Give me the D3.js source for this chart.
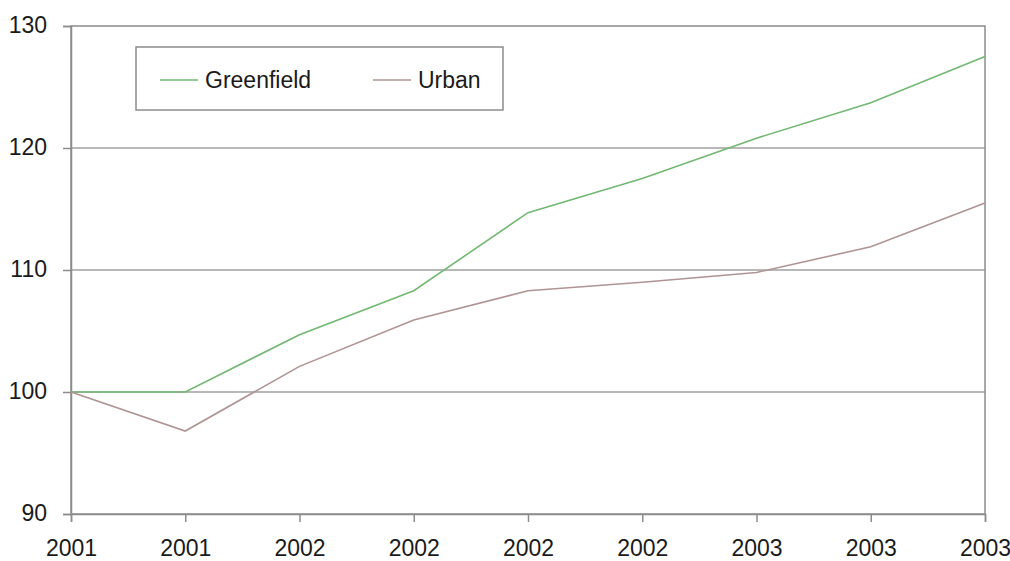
<!DOCTYPE html>
<html>
<head>
<meta charset="utf-8">
<script src="https://cdn.jsdelivr.net/npm/d3@7"></script>
<style>
  html, body { margin: 0; padding: 0; background: #fff; }
  svg { display: block; font-family: "Liberation Sans", Arial, sans-serif; }
</style>
</head>
<body>
<svg id="chart" width="1010" height="561"></svg>
<script>
// Index values per period (base = 100)
const periods = ["2001", "2001", "2002", "2002", "2002", "2002", "2003", "2003", "2003"];
const greenfield = [100, 100, 104.7, 108.3, 114.7, 117.5, 120.8, 123.7, 127.5];
const urban = [100, 96.8, 102.1, 105.9, 108.3, 109.0, 109.8, 111.9, 115.5];
const yTicks = [90, 100, 110, 120, 130];
const seriesNames = ["Greenfield", "Urban"];
const seriesColors = ["#72b872", "#b09494"];

const svg = d3.select("#chart");
const margin = { left: 71, right: 1010 - 985, top: 26, bottom: 561 - 514 };
const width = 1010 - margin.left - margin.right;
const height = 561 - margin.top - margin.bottom;

const g = svg.append("g").attr("transform", `translate(${margin.left},${margin.top})`);

const x = d3.scalePoint().domain(d3.range(periods.length)).range([0, width]);
const y = d3.scaleLinear().domain([90, 130]).range([height, 0]);

// Horizontal gridlines
g.append("g")
  .selectAll("line")
  .data(yTicks.filter(t => t > 90 && t < 130))
  .join("line")
  .attr("x1", 0).attr("x2", width)
  .attr("y1", d => y(d)).attr("y2", d => y(d))
  .attr("stroke", "#a0a0a0").attr("stroke-width", 1.5);

// Plot frame
g.append("rect")
  .attr("x", 0).attr("y", 0).attr("width", width).attr("height", height)
  .attr("fill", "none").attr("stroke", "#8c8c8c").attr("stroke-width", 1.5);

// Y axis
const yAxis = g.append("g")
  .call(d3.axisLeft(y).tickValues(yTicks).tickSize(8).tickPadding(16).tickFormat(d3.format("d")));
yAxis.select(".domain").attr("stroke", "#8c8c8c").attr("stroke-width", 1.5);
yAxis.selectAll(".tick line").attr("stroke", "#8c8c8c").attr("stroke-width", 1.5);
yAxis.selectAll(".tick text")
  .attr("font-size", 23).attr("fill", "#1a1a1a")
  .attr("font-family", "Liberation Sans, Arial, sans-serif")
  .attr("dy", "0.3em");

// X axis
const xAxis = g.append("g")
  .attr("transform", `translate(0,${height})`)
  .call(d3.axisBottom(x).tickSize(8).tickPadding(18).tickFormat(i => periods[i]));
xAxis.select(".domain").attr("stroke", "#8c8c8c").attr("stroke-width", 1.5);
xAxis.selectAll(".tick line").attr("stroke", "#8c8c8c").attr("stroke-width", 1.5);
xAxis.selectAll(".tick text")
  .attr("font-size", 23).attr("fill", "#1a1a1a")
  .attr("font-family", "Liberation Sans, Arial, sans-serif");

// Series lines
const line = d3.line().x((d, i) => x(i)).y(d => y(d));
[greenfield, urban].forEach((vals, k) => {
  g.append("path")
    .datum(vals)
    .attr("fill", "none")
    .attr("stroke", seriesColors[k])
    .attr("stroke-width", 1.6)
    .attr("d", line);
});

// Legend
const legend = svg.append("g").attr("transform", "translate(136,47)");
legend.append("rect")
  .attr("width", 367).attr("height", 63)
  .attr("fill", "#fff").attr("stroke", "#8c8c8c").attr("stroke-width", 1.5);
const legendX = [24, 237];
seriesNames.forEach((name, k) => {
  const item = legend.append("g").attr("transform", `translate(${legendX[k]},33)`);
  item.append("line")
    .attr("x1", 0).attr("x2", 38).attr("y1", 0).attr("y2", 0)
    .attr("stroke", seriesColors[k]).attr("stroke-width", 1.6);
  item.append("text")
    .attr("x", 45).attr("y", 0).attr("dy", "0.35em")
    .attr("font-size", 23).attr("fill", "#1a1a1a")
    .text(name);
});
</script>
</body>
</html>
